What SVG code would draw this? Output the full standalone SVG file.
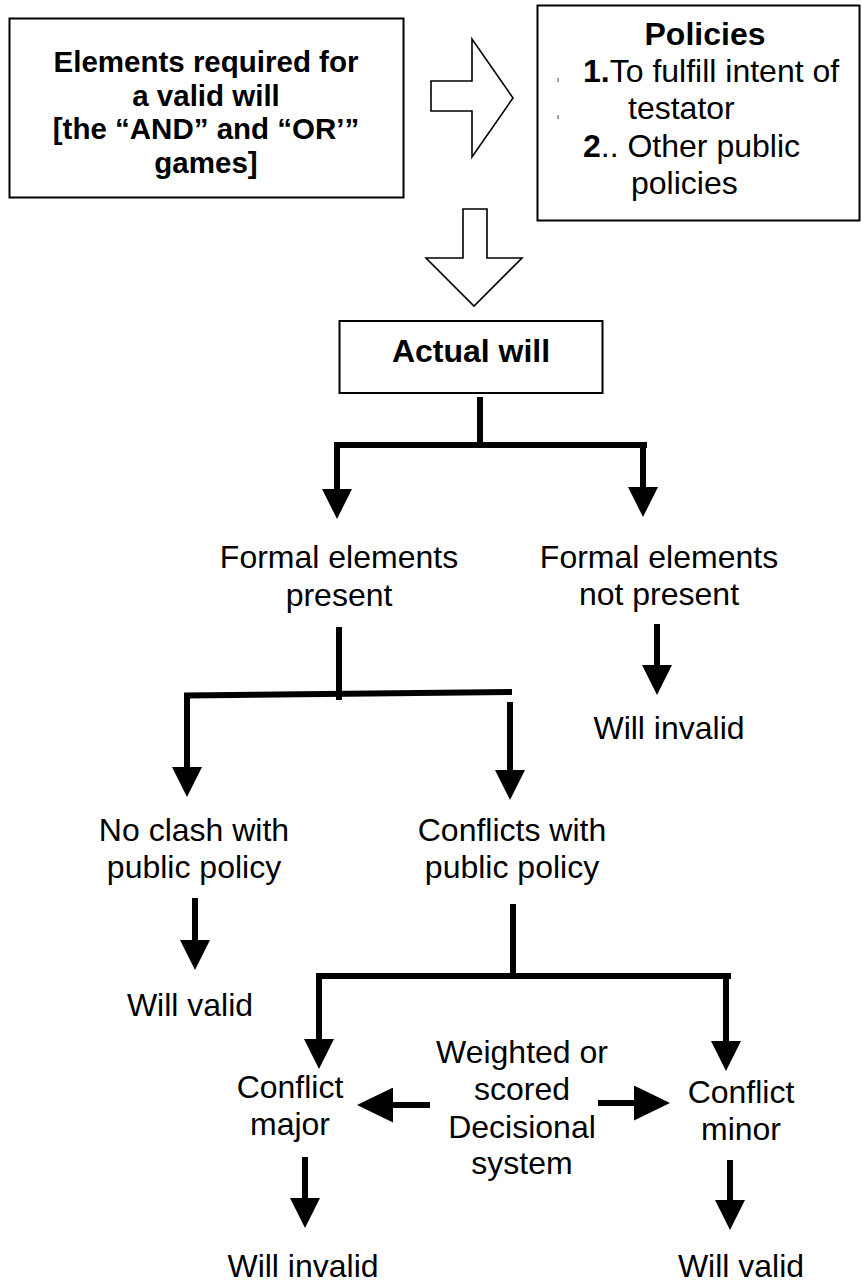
<svg xmlns="http://www.w3.org/2000/svg" width="862" height="1285" viewBox="0 0 862 1285">
<style>
text{font-family:"Liberation Sans",Arial,sans-serif;font-size:32px;fill:#000}
.b{font-weight:bold}
.c{text-anchor:middle}
.t1{font-size:29.5px}
.box{fill:#fff;stroke:#000;stroke-width:2}
.blk{fill:#fff;stroke:#000;stroke-width:1.6;stroke-linejoin:miter}
.con{fill:none;stroke:#000;stroke-width:6;stroke-linejoin:miter}
</style>
<defs>
<marker id="ah" markerUnits="userSpaceOnUse" markerWidth="30" markerHeight="30" viewBox="0 0 30 30" refX="0" refY="15" orient="auto">
<path d="M0,0 L30,15 L0,30 z" fill="#000"/>
</marker>
<marker id="ahb" markerUnits="userSpaceOnUse" markerWidth="36" markerHeight="35" viewBox="0 0 36 35" refX="0" refY="17.5" orient="auto">
<path d="M0,0 L36,17.5 L0,35 z" fill="#000"/>
</marker>
</defs>
<rect width="862" height="1285" fill="#fff"/>

<g id="elements">
<rect class="box" x="9.5" y="18.5" width="394" height="179"/>
<text class="b c t1" x="206" y="72">Elements required for</text>
<text class="b c t1" x="206" y="105.5">a valid will</text>
<text class="b c t1" x="206" y="139">[the “AND” and “OR’”</text>
<text class="b c t1" x="206" y="172.5">games]</text>
</g>

<g id="policies">
<rect class="box" x="537.5" y="5.5" width="322" height="215"/>
<text class="b c" x="705" y="45">Policies</text>
<text x="583" y="82"><tspan class="b">1.</tspan>To fulfill intent of</text>
<text x="628" y="119">testator</text>
<text x="583" y="157"><tspan class="b">2</tspan>.. Other public</text>
<text x="631" y="194">policies</text>
<rect x="557.5" y="78" width="1.2" height="4" fill="#666"/>
<rect x="557.5" y="115" width="1.2" height="4" fill="#666"/>
</g>

<g id="arrow-right-block">
<path class="blk" d="M431,81 H472 V39 L513,98 L472,157 V111 H431 Z"/>
</g>

<g id="arrow-down-block">
<path class="blk" d="M463,209 H487 V258 H522 L474,306 L426,258 H463 Z"/>
</g>

<g id="actual-will">
<rect class="box" x="339.5" y="321" width="263" height="72"/>
<text class="b c" x="471" y="362">Actual will</text>
</g>

<g id="formal-present">
<text class="c" x="339" y="568">Formal elements</text>
<text class="c" x="339" y="606">present</text>
</g>

<g id="formal-not-present">
<text class="c" x="659" y="568">Formal elements</text>
<text class="c" x="659" y="605">not present</text>
</g>

<g id="will-invalid-1">
<text class="c" x="669" y="739">Will invalid</text>
</g>

<g id="no-clash">
<text class="c" x="194" y="841">No clash with</text>
<text class="c" x="194" y="878">public policy</text>
</g>

<g id="conflicts">
<text class="c" x="512" y="841">Conflicts with</text>
<text class="c" x="512" y="878">public policy</text>
</g>

<g id="will-valid-1">
<text class="c" x="190" y="1016">Will valid</text>
</g>

<g id="weighted">
<text class="c" x="522" y="1063">Weighted or</text>
<text class="c" x="522" y="1100">scored</text>
<text class="c" x="522" y="1138">Decisional</text>
<text class="c" x="522" y="1174">system</text>
</g>

<g id="conflict-major">
<text class="c" x="290" y="1098">Conflict</text>
<text class="c" x="290" y="1135">major</text>
</g>

<g id="conflict-minor">
<text class="c" x="741" y="1103">Conflict</text>
<text class="c" x="741" y="1140">minor</text>
</g>

<g id="will-invalid-2">
<text class="c" x="303" y="1277">Will invalid</text>
</g>

<g id="will-valid-2">
<text class="c" x="741" y="1277">Will valid</text>
</g>

<g id="connectors">
<path class="con" d="M480,397 V445"/>
<path class="con" d="M647,445 H337 V489" marker-end="url(#ah)"/>
<path class="con" d="M643,445 V487" marker-end="url(#ah)"/>
<path class="con" d="M339,627 V700"/>
<path class="con" d="M512,692 L187,695.5 V767" marker-end="url(#ah)"/>
<path class="con" d="M510,702 V770" marker-end="url(#ah)"/>
<path class="con" d="M657,624 V665" marker-end="url(#ah)"/>
<path class="con" d="M195,898 V940" marker-end="url(#ah)"/>
<path class="con" d="M513,904 V978"/>
<path class="con" d="M731,976 H319 V1039" marker-end="url(#ah)"/>
<path class="con" d="M726,976 V1041" marker-end="url(#ah)"/>
<path class="con" d="M430,1105 H393" marker-end="url(#ahb)"/>
<path class="con" d="M598,1103 H634" marker-end="url(#ahb)"/>
<path class="con" d="M305,1157 V1198" marker-end="url(#ah)"/>
<path class="con" d="M730,1160 V1200" marker-end="url(#ah)"/>
</g>
</svg>
